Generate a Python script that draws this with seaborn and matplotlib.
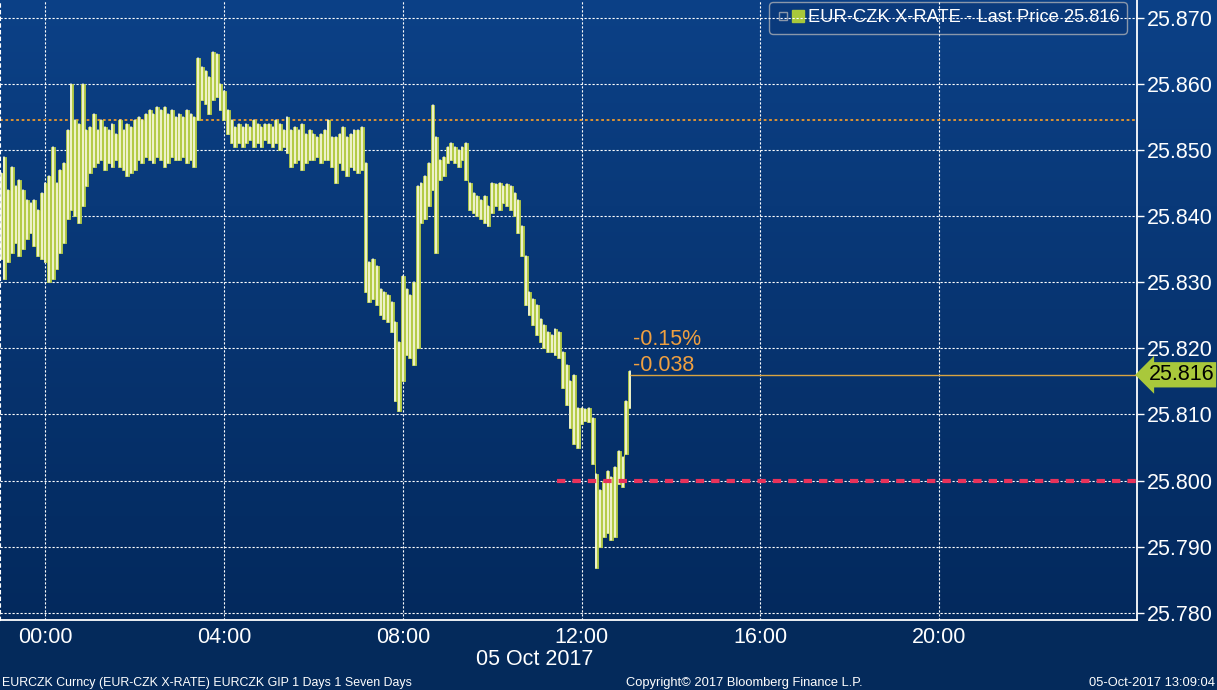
import matplotlib
matplotlib.use("Agg")
import matplotlib.pyplot as plt
import matplotlib.dates as mdates
import matplotlib.transforms as mtransforms
from matplotlib.colors import LinearSegmentedColormap
from matplotlib.lines import Line2D
from matplotlib.legend_handler import HandlerTuple
from matplotlib.ticker import FormatStrFormatter
import numpy as np
import pandas as pd
import seaborn as sns

# 5-minute high/low bars, EUR-CZK, from 23:00 on 04 Oct 2017
bar_low = [
    25.8335, 25.8305, 25.8330, 25.8345, 25.8360, 25.8340, 25.8350, 25.8365, 25.8375, 25.8355, 25.8340, 25.8335,
    25.8330, 25.8300, 25.8305, 25.8320, 25.8345, 25.8360, 25.8395, 25.8410, 25.8400, 25.8390, 25.8415, 25.8445,
    25.8465, 25.8475, 25.8480, 25.8485, 25.8470, 25.8480, 25.8475, 25.8485, 25.8475, 25.8470, 25.8460, 25.8465,
    25.8470, 25.8485, 25.8480, 25.8490, 25.8485, 25.8480, 25.8490, 25.8485, 25.8475, 25.8480, 25.8490, 25.8485,
    25.8485, 25.8490, 25.8480, 25.8485, 25.8475, 25.8545, 25.8575, 25.8570, 25.8555, 25.8575, 25.8580, 25.8560,
    25.8545, 25.8525, 25.8510, 25.8505, 25.8510, 25.8505, 25.8510, 25.8515, 25.8505, 25.8510, 25.8505, 25.8515,
    25.8510, 25.8505, 25.8510, 25.8500, 25.8505, 25.8495, 25.8475, 25.8480, 25.8485, 25.8470, 25.8480, 25.8485,
    25.8485, 25.8490, 25.8480, 25.8485, 25.8485, 25.8475, 25.8450, 25.8480, 25.8470, 25.8460, 25.8475, 25.8470,
    25.8465, 25.8470, 25.8285, 25.8270, 25.8275, 25.8265, 25.8250, 25.8245, 25.8240, 25.8225, 25.8120, 25.8105,
    25.8150, 25.8190, 25.8185, 25.8175, 25.8200, 25.8390, 25.8395, 25.8415, 25.8440, 25.8345, 25.8455, 25.8460,
    25.8480, 25.8485, 25.8480, 25.8475, 25.8485, 25.8455, 25.8410, 25.8405, 25.8400, 25.8395, 25.8390, 25.8385,
    25.8405, 25.8415, 25.8410, 25.8420, 25.8415, 25.8410, 25.8400, 25.8375, 25.8340, 25.8265, 25.8250, 25.8235,
    25.8220, 25.8210, 25.8200, 25.8195, 25.8195, 25.8190, 25.8185, 25.8140, 25.8115, 25.8080, 25.8055, 25.8050,
    25.8085, 25.8090, 25.8088, 25.8025, 25.7868, 25.7900, 25.7915, 25.7920, 25.7910, 25.7915, 25.7995, 25.7990,
    25.8040, 25.8110,
]
bar_high = [
    25.8465, 25.8490, 25.8440, 25.8475, 25.8445, 25.8455, 25.8440, 25.8425, 25.8420, 25.8425, 25.8410, 25.8435,
    25.8450, 25.8460, 25.8505, 25.8450, 25.8470, 25.8480, 25.8530, 25.8600, 25.8545, 25.8540, 25.8600, 25.8530,
    25.8535, 25.8555, 25.8530, 25.8545, 25.8535, 25.8530, 25.8540, 25.8525, 25.8545, 25.8530, 25.8540, 25.8535,
    25.8545, 25.8550, 25.8545, 25.8555, 25.8560, 25.8555, 25.8565, 25.8560, 25.8565, 25.8555, 25.8560, 25.8550,
    25.8555, 25.8550, 25.8560, 25.8555, 25.8550, 25.8640, 25.8625, 25.8620, 25.8610, 25.8648, 25.8645, 25.8600,
    25.8590, 25.8560, 25.8545, 25.8535, 25.8540, 25.8535, 25.8540, 25.8535, 25.8545, 25.8540, 25.8535, 25.8540,
    25.8540, 25.8535, 25.8545, 25.8540, 25.8530, 25.8550, 25.8530, 25.8535, 25.8530, 25.8540, 25.8525, 25.8530,
    25.8525, 25.8520, 25.8525, 25.8530, 25.8545, 25.8520, 25.8520, 25.8525, 25.8535, 25.8520, 25.8525, 25.8530,
    25.8530, 25.8535, 25.8480, 25.8330, 25.8335, 25.8325, 25.8290, 25.8285, 25.8280, 25.8270, 25.8240, 25.8210,
    25.8310, 25.8290, 25.8280, 25.8300, 25.8445, 25.8450, 25.8460, 25.8480, 25.8568, 25.8520, 25.8485, 25.8490,
    25.8505, 25.8510, 25.8505, 25.8500, 25.8505, 25.8510, 25.8450, 25.8435, 25.8430, 25.8425, 25.8430, 25.8415,
    25.8450, 25.8448, 25.8450, 25.8445, 25.8448, 25.8445, 25.8435, 25.8425, 25.8385, 25.8340, 25.8285, 25.8275,
    25.8265, 25.8245, 25.8235, 25.8225, 25.8220, 25.8230, 25.8225, 25.8195, 25.8175, 25.8150, 25.8160, 25.8110,
    25.8110, 25.8108, 25.8110, 25.8095, 25.8010, 25.7985, 25.8000, 25.8015, 25.8005, 25.8020, 25.8045, 25.8035,
    25.8120, 25.8165,
]
first_bar = "2017-10-04 23:00"
bar_freq = "5min"

last_price = 25.816
change_pct = "-0.15%"
change_abs = "-0.038"
orange_level = 25.8545
red_level = 25.800
red_start = "2017-10-05 11:27"
y_ticks = [25.78, 25.79, 25.80, 25.81, 25.82, 25.83, 25.84, 25.85, 25.86, 25.87]
x_ticks = ["00:00", "04:00", "08:00", "12:00", "16:00", "20:00"]
x_minor = ["02:00", "06:00", "10:00", "14:00", "18:00", "22:00"]
x_start = "2017-10-04 22:59"
x_end = "2017-10-06 00:26"

sns.set_style("dark")
plt.rcParams["font.family"] = ["Liberation Sans", "DejaVu Sans"]

times = pd.date_range(first_bar, periods=len(bar_low), freq=bar_freq)
rows = []
for i, t in enumerate(times):
    rows.append({"time": t, "price": bar_low[i], "bar": i})
    rows.append({"time": t, "price": bar_high[i], "bar": i})
bars = pd.DataFrame(rows)

fig = plt.figure(figsize=(12.17, 6.90), dpi=100, facecolor="#042a5b")

# gradient background behind plot and right axis
bg = fig.add_axes([0, 0.1014, 1, 0.8986], zorder=0)
grad = np.linspace(0, 1, 256).reshape(-1, 1)
cmap = LinearSegmentedColormap.from_list("bb", ["#0c4187", "#03295d"])
bg.imshow(grad, aspect="auto", cmap=cmap, extent=[0, 1, 0, 1], origin="upper")
bg.axis("off")

ax = fig.add_axes([0, 0.1014, 0.9343, 0.8986], zorder=1)
ax.patch.set_alpha(0)

# green body of the bars, then the white high/low strokes
ax.fill_between(times, bar_low, bar_high, step="mid", color="#b4cb46", lw=0.6,
                edgecolor="#b4cb46", zorder=2)
sns.lineplot(data=bars, x="time", y="price", units="bar", estimator=None,
             color="#fffdf0", lw=1.1, sort=False, ax=ax, zorder=2.5)

xl = pd.Timestamp(x_start)
xr = pd.Timestamp(x_end)

ax.axhline(orange_level, color="#ef9a2d", lw=1.3, ls=(0, (1.5, 1.5)), zorder=1.5)
ax.hlines(red_level, pd.Timestamp(red_start), xr, color="#e8325a", lw=3.0,
          linestyles=(0, (2.0, 1.7)), zorder=3)
ax.hlines(last_price, times[-1], xr, color="#d9a441", lw=1.0, zorder=3)

ax.annotate(change_pct, (times[-1], last_price), xytext=(3, 30), textcoords="offset pixels",
            color="#f0a040", fontsize=15.5, va="baseline", ha="left")
ax.annotate(change_abs, (times[-1], last_price), xytext=(3, 4), textcoords="offset pixels",
            color="#f0a040", fontsize=15.5, va="baseline", ha="left")

trans = mtransforms.blended_transform_factory(ax.transAxes, ax.transData)
ax.text(1.010, last_price, f"{last_price:.3f}", transform=trans, ha="left", va="center",
        fontsize=15.5, color="black", clip_on=False,
        bbox=dict(boxstyle="larrow,pad=0.1", fc="#a9c83b", ec="none"))

ax.set_xlim(xl, xr)
ax.set_ylim(25.7789, 25.8727)
ax.set_xlabel("")
ax.set_ylabel("")

ax.set_xticks([pd.Timestamp("2017-10-05 " + t) for t in x_ticks])
ax.set_xticks([pd.Timestamp("2017-10-05 " + t) for t in x_minor], minor=True)
ax.set_xticklabels(x_ticks)
ax.yaxis.tick_right()
ax.set_yticks(y_ticks)
ax.yaxis.set_major_formatter(FormatStrFormatter("%.3f"))

ax.grid(True, which="major", color="white", lw=0.8, ls=(0, (2, 1.6)))
ax.set_axisbelow(True)
ax.tick_params(axis="y", colors="white", labelsize=15.5, length=5, width=1, direction="out", pad=2)
ax.tick_params(axis="x", which="both", colors="white", labelsize=15.5, length=5, width=1,
               direction="in", pad=5)

ax.spines["top"].set_visible(False)
ax.spines["left"].set_color("white")
ax.spines["left"].set_linestyle((0, (3, 3)))
for s in ["bottom", "right"]:
    ax.spines[s].set_color("white")
    ax.spines[s].set_linewidth(1.3)

icon = Line2D([], [], marker="s", ls="none", mfc="none", mec="#8a97aa", markersize=6)
handle = Line2D([], [], marker="s", ls="none", color="#a9c83b", markersize=9)
leg = ax.legend([(icon, handle)], ["EUR-CZK X-RATE - Last Price 25.816"], loc="upper right",
                bbox_to_anchor=(0.991, 0.997), borderaxespad=0, frameon=True,
                facecolor="#0a3a7c", edgecolor="#8a97aa", labelcolor="white",
                fontsize=13.2, handlelength=1.5, handletextpad=0.2, borderpad=0.4,
                framealpha=1, handler_map={tuple: HandlerTuple(ndivide=None, pad=0.1)})
leg.set_zorder(0.4)

fig.text(0.4396, 0.0435, "05 Oct 2017", color="white", fontsize=15.5, ha="center", va="center")
fig.text(0.002, 0.006, "EURCZK Curncy (EUR-CZK X-RATE) EURCZK GIP 1 Days 1 Seven Days",
         color="white", fontsize=8.9, ha="left", va="baseline")
fig.text(0.612, 0.006, "Copyright\u00a9 2017 Bloomberg Finance L.P.", color="white",
         fontsize=9.3, ha="center", va="baseline")
fig.text(0.998, 0.006, "05-Oct-2017 13:09:04", color="white", fontsize=9.3,
         ha="right", va="baseline")

fig.savefig("out.png", dpi=100, facecolor=fig.get_facecolor())
